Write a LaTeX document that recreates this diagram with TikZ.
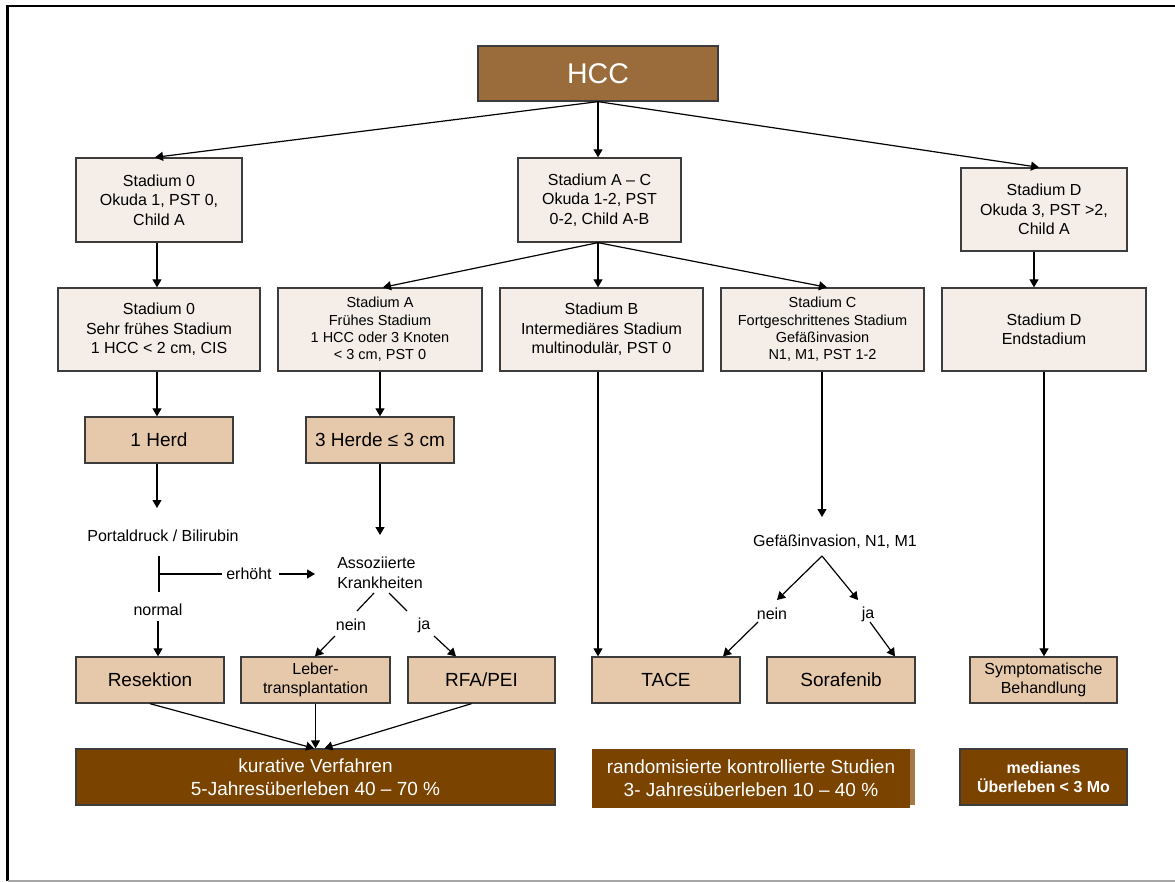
\documentclass[tikz,border=0pt]{standalone}
\usepackage{fontspec}
\setmainfont{Liberation Sans}
\usetikzlibrary{arrows.meta}
\definecolor{hccbrown}{HTML}{9A6B3B}
\definecolor{lightbox}{HTML}{F5EDE7}
\definecolor{tanbox}{HTML}{E6C9AB}
\definecolor{darkbrown}{HTML}{7A4300}
\definecolor{midbrown}{HTML}{A5784A}
\definecolor{edgegray}{HTML}{3C3C3C}
\newcommand\fsz[2]{\fontsize{#1}{#2}\selectfont}
\begin{document}
\begin{tikzpicture}[x=1pt,y=-1pt,
  box/.style={draw=edgegray,line width=1.3pt,inner sep=0pt,align=center,text=black},
  lbox/.style={box,fill=lightbox,font=\fsz{16}{19.5}},
  sbox/.style={box,fill=lightbox,font=\fsz{14.5}{17.4}},
  tbox/.style={box,fill=tanbox,font=\fsz{19}{22}},
  tsbox/.style={box,fill=tanbox,font=\fsz{16}{19}},
  dbox/.style={box,fill=darkbrown,text=white,font=\fsz{19}{23}},
  lbl/.style={inner sep=0pt,font=\fsz{16}{20}},
  arr/.style={line width=1.2pt,-{Triangle[length=8pt,width=9pt]}},
  ln/.style={line width=1.2pt},
]
\useasboundingbox (0,0) rectangle (1175,882);
% frame
\draw[line width=2.6pt] (7.5,881) -- (7.5,6) -- (1180,6);
\draw[line width=2pt,gray!70] (7.5,881) -- (1180,881);

% top
\node[box,fill=hccbrown,text=white,font=\fsz{28.5}{32},minimum width=240pt,minimum height=55pt] (hcc) at (598,73.5) {HCC};

% level 1
\node[lbox,minimum width=166pt,minimum height=84pt] (s0) at (159,200) {Stadium 0\\Okuda 1, PST 0,\\Child A};
\node[lbox,minimum width=163pt,minimum height=84pt] (sac) at (599.5,200) {Stadium A -- C\\Okuda 1-2, PST\\0-2, Child A-B};
\node[lbox,minimum width=166pt,minimum height=83pt] (sd) at (1044,209.5) {Stadium D\\Okuda 3, PST >2,\\Child A};

% level 2
\node[lbox,minimum width=202pt,minimum height=83pt] (s0b) at (159,329.5) {Stadium 0\\Sehr frühes Stadium\\1 HCC < 2 cm, CIS};
\node[sbox,minimum width=204pt,minimum height=83pt] (sa) at (380,329.5) {Stadium A\\Frühes Stadium\\1 HCC oder 3 Knoten\\< 3 cm, PST 0};
\node[lbox,minimum width=203pt,minimum height=83pt] (sb) at (601.5,329.5) {Stadium B\\Intermediäres Stadium\\multinodulär, PST 0};
\node[sbox,minimum width=203pt,minimum height=83pt] (sc) at (822.5,329.5) {Stadium C\\Fortgeschrittenes Stadium\\Gefäßinvasion\\N1, M1, PST 1-2};
\node[lbox,minimum width=204pt,minimum height=83pt] (sdb) at (1044,329.5) {Stadium D\\Endstadium};

% level 3
\node[tbox,minimum width=148pt,minimum height=46pt] (herd1) at (159,440) {1 Herd};
\node[tbox,minimum width=148pt,minimum height=46pt] (herd3) at (380,440) {3 Herde ≤ 3 cm};

% decision texts
\node[lbl] (portal) at (163,536) {Portaldruck / Bilirubin};
\node[lbl,align=left] (assoz) at (380,573) {Assoziierte\\Krankheiten};
\node[lbl] (gefass) at (835,542) {Gefäßinvasion, N1, M1};
\node[lbl] (erh) at (249,574) {erhöht};
\node[lbl] (normal) at (158,610) {normal};
\node[lbl] (nein1) at (351,625) {nein};
\node[lbl] (ja1) at (424,625) {ja};
\node[lbl] (nein2) at (772,614) {nein};
\node[lbl] (ja2) at (868,614) {ja};

% treatments
\node[tbox,minimum width=148pt,minimum height=46pt] (res) at (150,680) {Resektion};
\node[tsbox,minimum width=149pt,minimum height=46pt] (lt) at (315.5,680) {Leber-\\transplantation};
\node[tbox,minimum width=147pt,minimum height=46pt] (rfa) at (481.5,680) {RFA/PEI};
\node[tbox,minimum width=148pt,minimum height=46pt] (tace) at (666,680) {TACE};
\node[tbox,minimum width=148pt,minimum height=46pt] (sora) at (841,680) {Sorafenib};
\node[tsbox,minimum width=147pt,minimum height=46pt] (sym) at (1043.5,680) {Symptomatische\\Behandlung};

% outcomes
\node[dbox,minimum width=479pt,minimum height=56pt] (kur) at (315.5,777) {kurative Verfahren\\5-Jahresüberleben 40 -- 70 \%};
\fill[midbrown] (592,749) rectangle (915,805);
\node[dbox,draw=none,minimum width=318pt,minimum height=59pt] (rct) at (751,778.5) {randomisierte kontrollierte Studien\\3- Jahresüberleben 10 -- 40 \%};
\node[box,fill=darkbrown,text=white,font=\fsz{16}{19}\bfseries,minimum width=167pt,minimum height=56pt] (med) at (1043.5,777) {medianes\\Überleben < 3 Mo};

% connectors top
\draw[arr] (hcc.south) -- ([xshift=-4pt]s0.north);
\draw[arr] (hcc.south) -- (hcc.south |- sac.north);
\draw[arr] (hcc.south) -- ([xshift=-5pt]sd.north);
\coordinate (sacb) at (hcc.south |- sac.south);
\draw[arr] ([xshift=-2pt]s0.south) -- ([xshift=-2pt]s0b.north);
\draw[arr] (sacb) -- ([xshift=3pt]sa.north);
\draw[arr] (sacb) -- (sacb |- sb.north);
\draw[arr] (sacb) -- ([xshift=4.5pt]sc.north);
\draw[arr] ([xshift=-10pt]sd.south) -- ([xshift=-10pt]sdb.north);
\draw[arr] ([xshift=-2pt]s0b.south) -- ([xshift=-2pt]herd1.north);
\draw[arr] (sa.south) -- (herd3.north);

% left branch
\coordinate (h1end) at (157,508);
\draw[arr] ([xshift=-2pt]herd1.south) -- (h1end);
\coordinate (h3end) at (380,535);
\draw[arr] (herd3.south) -- (h3end);
\coordinate (pv1) at (159,556);
\coordinate (pv2) at (159,592);
\coordinate (ph) at (159,574);
\draw[ln] (pv1) -- (pv2);
\draw[ln] (ph) -- ([xshift=-4pt]erh.west);
\coordinate (erhend) at (315,574);
\draw[arr] ([xshift=7pt]erh.east) -- (erhend);
\coordinate (n0) at (158,621);
\draw[arr] (n0) -- (n0 |- res.north);

\coordinate (a1) at (374,593);
\coordinate (a2) at (357,611);
\coordinate (a3) at (335,636);
\draw[ln] (a1) -- (a2);
\draw[arr] (a3) -- ([xshift=-0.5pt]lt.north);
\coordinate (b1) at (389,593);
\coordinate (b2) at (407,611);
\coordinate (b3) at (434,636);
\draw[ln] (b1) -- (b2);
\draw[arr] (b3) -- ([xshift=-25.5pt]rfa.north);

% outcome arrows
\draw[arr] (res.south) -- ([xshift=-1.5pt]kur.north);
\draw[arr] (lt.south) -- (lt.south |- kur.north);
\draw[arr] ([xshift=-10pt]rfa.south) -- ([xshift=9pt]kur.north);

% middle branch
\draw[arr] (sacb |- sb.south) -- (sacb |- tace.north);
\coordinate (cend) at (822,517);
\draw[arr] ([xshift=-0.5pt]sc.south) -- (cend);
\coordinate (g0) at (822,556);
\coordinate (gl) at (777,600);
\coordinate (gr) at (858,600);
\draw[arr] (g0) -- (gl);
\draw[arr] (g0) -- (gr);
\coordinate (c3) at (758,622);
\coordinate (d3) at (870,622);
\draw[arr] (c3) -- ([xshift=57pt]tace.north);
\draw[arr] (d3) -- ([xshift=54pt]sora.north);

% right branch
\draw[arr] (sdb.south) -- (sdb.south |- sym.north);
\end{tikzpicture}
\end{document}
